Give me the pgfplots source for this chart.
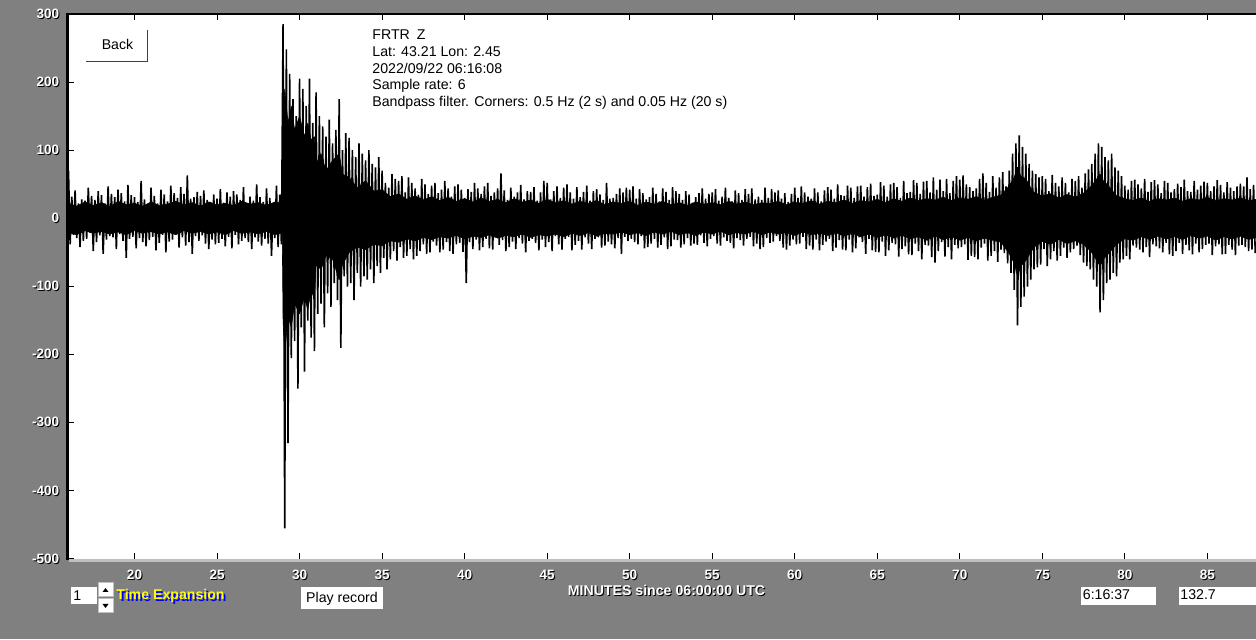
\documentclass[border=0pt]{standalone}
\usepackage{pgfplots}
\pgfplotsset{compat=1.18}
\usepackage{fontspec}
\setmainfont{Liberation Sans}
\definecolor{bg}{RGB}{128,128,128}
\definecolor{lgray}{RGB}{192,192,192}
\definecolor{dgray}{RGB}{64,64,64}
\definecolor{tyellow}{RGB}{255,255,0}
\definecolor{tblue}{RGB}{0,0,255}
\newcommand\sh[1]{\rlap{\kern0.5bp\raisebox{-0.5bp}{\color{black}#1}}{\color{white}#1}}
\newcommand\tf{\fontsize{7.1}{8.3}\selectfont}
\begin{document}
\begin{tikzpicture}[x=0.5bp,y=0.5bp]
\fill[bg] (0,0) rectangle (1256,639);
\begin{axis}[at={(34bp,40bp)}, anchor=south west, scale only axis,
  width=594bp, height=272.5bp,
  xmin=15.97, xmax=87.95, ymin=-500, ymax=300,
  axis background/.style={fill=white},
  axis line style={draw=none},
  xtick={20,25,...,85},
  xticklabels={\sh{20},\sh{25},\sh{30},\sh{35},\sh{40},\sh{45},\sh{50},\sh{55},\sh{60},\sh{65},\sh{70},\sh{75},\sh{80},\sh{85}},
  ytick={-500,-400,...,300},
  yticklabels={\sh{-500},\sh{-400},\sh{-300},\sh{-200},\sh{-100},\sh{0},\sh{100},\sh{200},\sh{300}},
  xtick pos=both, ytick pos=left, tick align=inside,
  major tick length=3.2bp,
  tick style={black, line width=0.5bp},
  xticklabel style={font=\bfseries\fontsize{6.8}{7}\selectfont, anchor=center, inner sep=0pt, yshift=-8.2bp},
  yticklabel style={font=\bfseries\fontsize{6.8}{7}\selectfont, anchor=east, inner sep=0pt, xshift=-4.2bp},
  clip=true,
]
% dense core of the trace (envelope of the solid black band)
\addplot[fill=black, draw=black, line width=0.3bp, line join=bevel] coordinates {
(16,22) (16.5,18) (17,24) (17.5,19) (18,23) (18.5,17) (19,25) (19.5,20) (20,22) (20.5,18) (21,24) (21.5,19) (22,21) (22.5,25) (23,20) (23.5,23) (24,18) (24.5,24) (25,20) (25.5,22) (26,19) (26.5,25) (27,21) (27.5,23) (28,19) (28.5,24) (28.95,22)
(29.0,150) (29.1,190) (29.3,140) (29.5,165) (29.7,130) (30,150) (30.3,120) (30.5,140) (30.7,115) (30.9,120) (31.0,80) (31.3,95) (31.6,70) (32.0,85) (32.4,95) (32.6,65) (33,60) (33.5,45) (34,55) (34.5,40) (35,42) (35.5,32) (36,36) (36.5,28) (37,33) (37.5,27) (38,32) (38.5,26) (39,31) (39.5,25) (40,29) (40.5,24) (41,30) (41.5,25) (42,28) (42.5,23) (43,29) (43.5,24) (44,27) (44.5,22) (45,28) (45.5,23) (46,26) (46.5,21) (47,25) (47.5,22) (48,26) (48.5,20) (49,24) (49.5,22) (50,25) (50.5,19) (51,24) (51.5,21) (52,25) (52.5,20) (53,23) (53.5,19) (54,24) (54.5,21) (55,23) (55.5,20) (56,25) (56.5,21) (57,24) (57.5,20) (58,23) (58.5,22) (59,25) (59.5,20) (60,24) (60.5,22) (61,26) (61.5,21) (62,25) (62.5,23) (63,27) (63.5,22) (64,26) (64.5,24) (65,28) (65.5,23) (66,29) (66.5,25) (67,30) (67.5,26) (68,29) (68.5,27) (69,31) (69.5,26) (70,30) (70.5,28) (71,32) (71.5,27) (72,31) (72.5,34) (73,48) (73.3,60) (73.5,75) (73.7,62) (74,58) (74.3,45) (74.5,38) (75,33) (75.5,36) (76,30) (76.5,35) (77,31) (77.5,37) (78,48) (78.3,58) (78.5,65) (78.7,55) (79,48) (79.5,33) (80,29) (80.5,26) (81,30) (81.5,25) (82,29) (82.5,27) (83,30) (83.5,25) (84,29) (84.5,27) (85,31) (85.5,26) (86,29) (86.5,27) (87,30) (87.5,26) (87.95,28)
(87.95,-28) (87.5,-31) (87,-26) (86.5,-30) (86,-27) (85.5,-32) (85,-26) (84.5,-29) (84,-25) (83.5,-31) (83,-27) (82.5,-30) (82,-26) (81.5,-31) (81,-27) (80.5,-32) (80,-30) (79.5,-38) (79,-52) (78.7,-60) (78.5,-70) (78.3,-62) (78,-50) (77.5,-38) (77,-33) (76.5,-37) (76,-31) (75.5,-38) (75,-34) (74.5,-42) (74.3,-50) (74,-62) (73.7,-70) (73.5,-85) (73.3,-66) (73,-52) (72.5,-35) (72,-32) (71.5,-29) (71,-33) (70.5,-28) (70,-32) (69.5,-27) (69,-31) (68.5,-26) (68,-32) (67.5,-27) (67,-30) (66.5,-25) (66,-29) (65.5,-24) (65,-28) (64.5,-23) (64,-27) (63.5,-22) (63,-26) (62.5,-21) (62,-25) (61.5,-22) (61,-24) (60.5,-20) (60,-25) (59.5,-21) (59,-23) (58.5,-20) (58,-24) (57.5,-19) (57,-23) (56.5,-21) (56,-24) (55.5,-19) (55,-23) (54.5,-20) (54,-25) (53.5,-21) (53,-24) (52.5,-19) (52,-23) (51.5,-20) (51,-25) (50.5,-21) (50,-24) (49.5,-20) (49,-23) (48.5,-22) (48,-26) (47.5,-21) (47,-25) (46.5,-22) (46,-27) (45.5,-23) (45,-26) (44.5,-24) (44,-28) (43.5,-23) (43,-27) (42.5,-25) (42,-29) (41.5,-24) (41,-28) (40.5,-26) (40,-30) (39.5,-25) (39,-29) (38.5,-27) (38,-31) (37.5,-28) (37,-33) (36.5,-30) (36,-35) (35.5,-33) (35,-40) (34.5,-38) (34,-46) (33.5,-42) (33,-50) (32.6,-68) (32.4,-90) (32,-60) (31.6,-55) (31.3,-75) (31,-68) (30.9,-118) (30.7,-105) (30.5,-135) (30.3,-115) (30,-140) (29.7,-125) (29.5,-160) (29.3,-145) (29.1,-200) (29.0,-150)
(28.95,-21) (28.5,-24) (28,-19) (27.5,-23) (27,-20) (26.5,-22) (26,-18) (25.5,-24) (25,-20) (24.5,-23) (24,-19) (23.5,-22) (23,-18) (22.5,-24) (22,-20) (21.5,-23) (21,-19) (20.5,-22) (20,-18) (19.5,-24) (19,-20) (18.5,-23) (18,-19) (17.5,-22) (17,-18) (16.5,-24) (16,-21)
} -- cycle;
% individual swings
\addplot[black, line width=0.8bp, line join=bevel, mark=none] table[row sep=\\, header=false, x expr={16+0.1*\coordindex}, y index=0] {
70\\ -38\\ 32\\ -24\\ 41\\ -29\\ 22\\ -42\\ 28\\ -33\\
26\\ -30\\ 45\\ -21\\ 33\\ -48\\ 27\\ -35\\ 40\\ -25\\
34\\ -52\\ 22\\ -31\\ 47\\ -26\\ 36\\ -28\\ 31\\ -45\\
42\\ -23\\ 37\\ -33\\ 25\\ -58\\ 49\\ -30\\ 34\\ -27\\
31\\ -44\\ 24\\ -29\\ 55\\ -35\\ 28\\ -41\\ 21\\ -32\\
45\\ -27\\ 33\\ -47\\ 22\\ -36\\ 42\\ -24\\ 35\\ -50\\
25\\ -34\\ 48\\ -31\\ 37\\ -22\\ 30\\ -43\\ 46\\ -28\\
36\\ -40\\ 63\\ -35\\ 29\\ -52\\ 31\\ -26\\ 39\\ -33\\
33\\ -25\\ 41\\ -37\\ 27\\ -45\\ 24\\ -31\\ 35\\ -38\\
29\\ -36\\ 43\\ -30\\ 23\\ -41\\ 38\\ -27\\ 32\\ -44\\
40\\ -24\\ 35\\ -38\\ 27\\ -33\\ 46\\ -29\\ 22\\ -35\\
32\\ -45\\ 26\\ -28\\ 50\\ -34\\ 31\\ -40\\ 24\\ -30\\
44\\ -37\\ 30\\ -55\\ 21\\ -29\\ 48\\ -42\\ 35\\ -38\\
285\\ -455\\ 248\\ -330\\ 212\\ -205\\ 175\\ -180\\ 150\\ -250\\
205\\ -160\\ 190\\ -225\\ 165\\ -150\\ 205\\ -175\\ 140\\ -195\\
185\\ -140\\ 150\\ -125\\ 135\\ -160\\ 120\\ -110\\ 145\\ -130\\
110\\ -95\\ 130\\ -120\\ 175\\ -190\\ 100\\ -85\\ 125\\ -100\\
118\\ -95\\ 100\\ -120\\ 90\\ -80\\ 110\\ -100\\ 95\\ -85\\
85\\ -90\\ 100\\ -75\\ 80\\ -95\\ 75\\ -70\\ 90\\ -80\\
70\\ -58\\ 52\\ -75\\ 45\\ -60\\ 65\\ -48\\ 58\\ -62\\
55\\ -42\\ 62\\ -58\\ 38\\ -55\\ 60\\ -45\\ 52\\ -60\\
44\\ -55\\ 35\\ -48\\ 58\\ -38\\ 50\\ -52\\ 36\\ -50\\
48\\ -34\\ 52\\ -40\\ 37\\ -50\\ 42\\ -46\\ 55\\ -35\\
44\\ -48\\ 32\\ -52\\ 47\\ -38\\ 50\\ -36\\ 42\\ -49\\
30\\ -95\\ 43\\ -35\\ 39\\ -45\\ 52\\ -31\\ 44\\ -47\\
36\\ -42\\ 47\\ -30\\ 52\\ -44\\ 33\\ -46\\ 38\\ -28\\
44\\ -39\\ 66\\ -32\\ 41\\ -48\\ 27\\ -42\\ 45\\ -34\\
32\\ -45\\ 38\\ -29\\ 49\\ -37\\ 28\\ -50\\ 40\\ -33\\
39\\ -30\\ 46\\ -36\\ 26\\ -47\\ 38\\ -31\\ 55\\ -42\\
52\\ -35\\ 28\\ -48\\ 40\\ -26\\ 47\\ -38\\ 30\\ -46\\
45\\ -30\\ 50\\ -27\\ 38\\ -47\\ 29\\ -39\\ 46\\ -33\\
31\\ -46\\ 39\\ -28\\ 48\\ -37\\ 26\\ -45\\ 40\\ -30\\
43\\ -28\\ 35\\ -43\\ 27\\ -40\\ 52\\ -34\\ 29\\ -38\\
30\\ -44\\ 36\\ -29\\ 44\\ -52\\ 38\\ -27\\ 45\\ -33\\
42\\ -30\\ 47\\ -35\\ 29\\ -38\\ 43\\ -26\\ 37\\ -44\\
28\\ -42\\ 31\\ -37\\ 45\\ -30\\ 36\\ -43\\ 25\\ -39\\
44\\ -28\\ 39\\ -45\\ 27\\ -41\\ 46\\ -31\\ 40\\ -32\\
36\\ -43\\ 27\\ -38\\ 40\\ -29\\ 35\\ -40\\ 23\\ -37\\
31\\ -39\\ 37\\ -25\\ 44\\ -36\\ 29\\ -41\\ 36\\ -30\\
38\\ -26\\ 43\\ -37\\ 26\\ -40\\ 32\\ -28\\ 45\\ -33\\
30\\ -36\\ 25\\ -44\\ 41\\ -29\\ 37\\ -32\\ 27\\ -40\\
43\\ -30\\ 36\\ -27\\ 44\\ -41\\ 28\\ -37\\ 32\\ -45\\
27\\ -42\\ 45\\ -29\\ 30\\ -36\\ 43\\ -34\\ 38\\ -26\\
41\\ -33\\ 29\\ -43\\ 37\\ -46\\ 24\\ -40\\ 36\\ -31\\
45\\ -38\\ 30\\ -37\\ 47\\ -27\\ 38\\ -45\\ 32\\ -40\\
29\\ -46\\ 44\\ -31\\ 38\\ -47\\ 25\\ -39\\ 41\\ -34\\
46\\ -30\\ 42\\ -48\\ 29\\ -43\\ 50\\ -32\\ 34\\ -46\\
33\\ -47\\ 48\\ -31\\ 45\\ -50\\ 30\\ -44\\ 47\\ -28\\
48\\ -35\\ 32\\ -52\\ 46\\ -30\\ 51\\ -47\\ 33\\ -49\\
35\\ -50\\ 53\\ -34\\ 48\\ -55\\ 32\\ -47\\ 50\\ -36\\
52\\ -38\\ 46\\ -56\\ 30\\ -45\\ 55\\ -41\\ 37\\ -53\\
39\\ -54\\ 56\\ -37\\ 52\\ -48\\ 36\\ -60\\ 54\\ -39\\
55\\ -40\\ 38\\ -57\\ 60\\ -65\\ 42\\ -48\\ 57\\ -35\\
40\\ -56\\ 58\\ -42\\ 37\\ -60\\ 55\\ -39\\ 62\\ -44\\
57\\ -42\\ 63\\ -38\\ 50\\ -61\\ 46\\ -55\\ 40\\ -57\\
44\\ -60\\ 58\\ -43\\ 66\\ -37\\ 52\\ -62\\ 39\\ -55\\
62\\ -48\\ 45\\ -64\\ 60\\ -46\\ 68\\ -51\\ 47\\ -66\\
70\\ -80\\ 95\\ -105\\ 110\\ -157\\ 122\\ -130\\ 105\\ -115\\
95\\ -100\\ 80\\ -90\\ 70\\ -75\\ 65\\ -72\\ 60\\ -68\\
62\\ -45\\ 58\\ -70\\ 40\\ -60\\ 64\\ -48\\ 52\\ -62\\
47\\ -55\\ 60\\ -43\\ 52\\ -58\\ 38\\ -50\\ 58\\ -45\\
55\\ -40\\ 62\\ -54\\ 45\\ -65\\ 66\\ -70\\ 72\\ -75\\
80\\ -90\\ 95\\ -100\\ 110\\ -138\\ 105\\ -120\\ 90\\ -95\\
85\\ -90\\ 95\\ -80\\ 75\\ -85\\ 70\\ -65\\ 62\\ -60\\
48\\ -55\\ 42\\ -60\\ 55\\ -40\\ 57\\ -43\\ 50\\ -46\\
44\\ -50\\ 58\\ -42\\ 39\\ -57\\ 53\\ -38\\ 56\\ -41\\
50\\ -44\\ 37\\ -50\\ 55\\ -36\\ 52\\ -53\\ 38\\ -55\\
43\\ -48\\ 51\\ -36\\ 46\\ -52\\ 57\\ -39\\ 40\\ -47\\
39\\ -53\\ 55\\ -37\\ 42\\ -50\\ 48\\ -45\\ 54\\ -39\\
52\\ -37\\ 40\\ -54\\ 47\\ -41\\ 56\\ -38\\ 49\\ -53\\
38\\ -52\\ 53\\ -39\\ 45\\ -46\\ 40\\ -54\\ 47\\ -40\\
51\\ -39\\ 47\\ -42\\ 60\\ -48\\ 43\\ -46\\ 49\\ -51\\
};
\end{axis}
% frame
\draw[black, line width=1.2bp] (66,625) -- (1256,625);
\draw[black, line width=1.5bp] (67.5,626) -- (67.5,79);
\draw[lgray, line width=1.5bp] (69,78.5) -- (1256,78.5);
% Back button
\fill[white] (86,609) rectangle (147,578);
\draw[dgray, line width=0.6bp] (147.5,609) -- (147.5,577.5) -- (86,577.5);
\node[anchor=base, font=\tf, inner sep=0pt] at (117.5,589) {Back};
% info text
\node[anchor=base west, font=\tf, inner sep=0pt] at (372,599) {FRTR\enspace Z};
\node[anchor=base west, font=\tf, inner sep=0pt] at (372,582.3) {Lat: 43.21 Lon: 2.45};
\node[anchor=base west, font=\tf, inner sep=0pt] at (372,565.7) {2022/09/22 06:16:08};
\node[anchor=base west, font=\tf, inner sep=0pt] at (372,549) {Sample rate: 6};
\node[anchor=base west, font=\tf, inner sep=0pt] at (372,532) {Bandpass filter. Corners: 0.5 Hz (2 s) and 0.05 Hz (20 s)};
% x label
\node[anchor=base, font=\bfseries\fontsize{7.1}{8}\selectfont, inner sep=0pt] at (666.5,43) {\sh{MINUTES since 06:00:00 UTC}};
% bottom controls
\fill[white] (71,52) rectangle (97,35);
\node[anchor=base west, font=\tf, inner sep=0pt] at (73,38.3) {1};
\fill[white] (98,56) rectangle (113,42);
\fill[white] (98,40) rectangle (113,26);
\draw[lgray, line width=0.5bp] (98,42) rectangle (113,56);
\draw[lgray, line width=0.5bp] (98,26) rectangle (113,40);
\fill[black] (102.5,47) -- (108.5,47) -- (105.5,51) -- cycle;
\fill[black] (102.5,35) -- (108.5,35) -- (105.5,31) -- cycle;
\node[anchor=base west, font=\bfseries\fontsize{7.1}{8}\selectfont, inner sep=0pt] at (116,39) {\rlap{\kern1bp\raisebox{-1bp}{\color{tblue}Time Expansion}}{\color{tyellow}Time Expansion}};
\fill[white] (301,52) rectangle (383,30);
\node[anchor=base, font=\tf, inner sep=0pt] at (342,36) {Play record};
\fill[white] (1081,52) rectangle (1156,34);
\node[anchor=base west, font=\tf, inner sep=0pt] at (1082.5,39) {6:16:37};
\fill[white] (1179,52) rectangle (1256,34);
\node[anchor=base west, font=\tf, inner sep=0pt] at (1180,39) {132.7};
\pgfresetboundingbox
\path[use as bounding box] (0,0) rectangle (1256,639);
\end{tikzpicture}
\end{document}
